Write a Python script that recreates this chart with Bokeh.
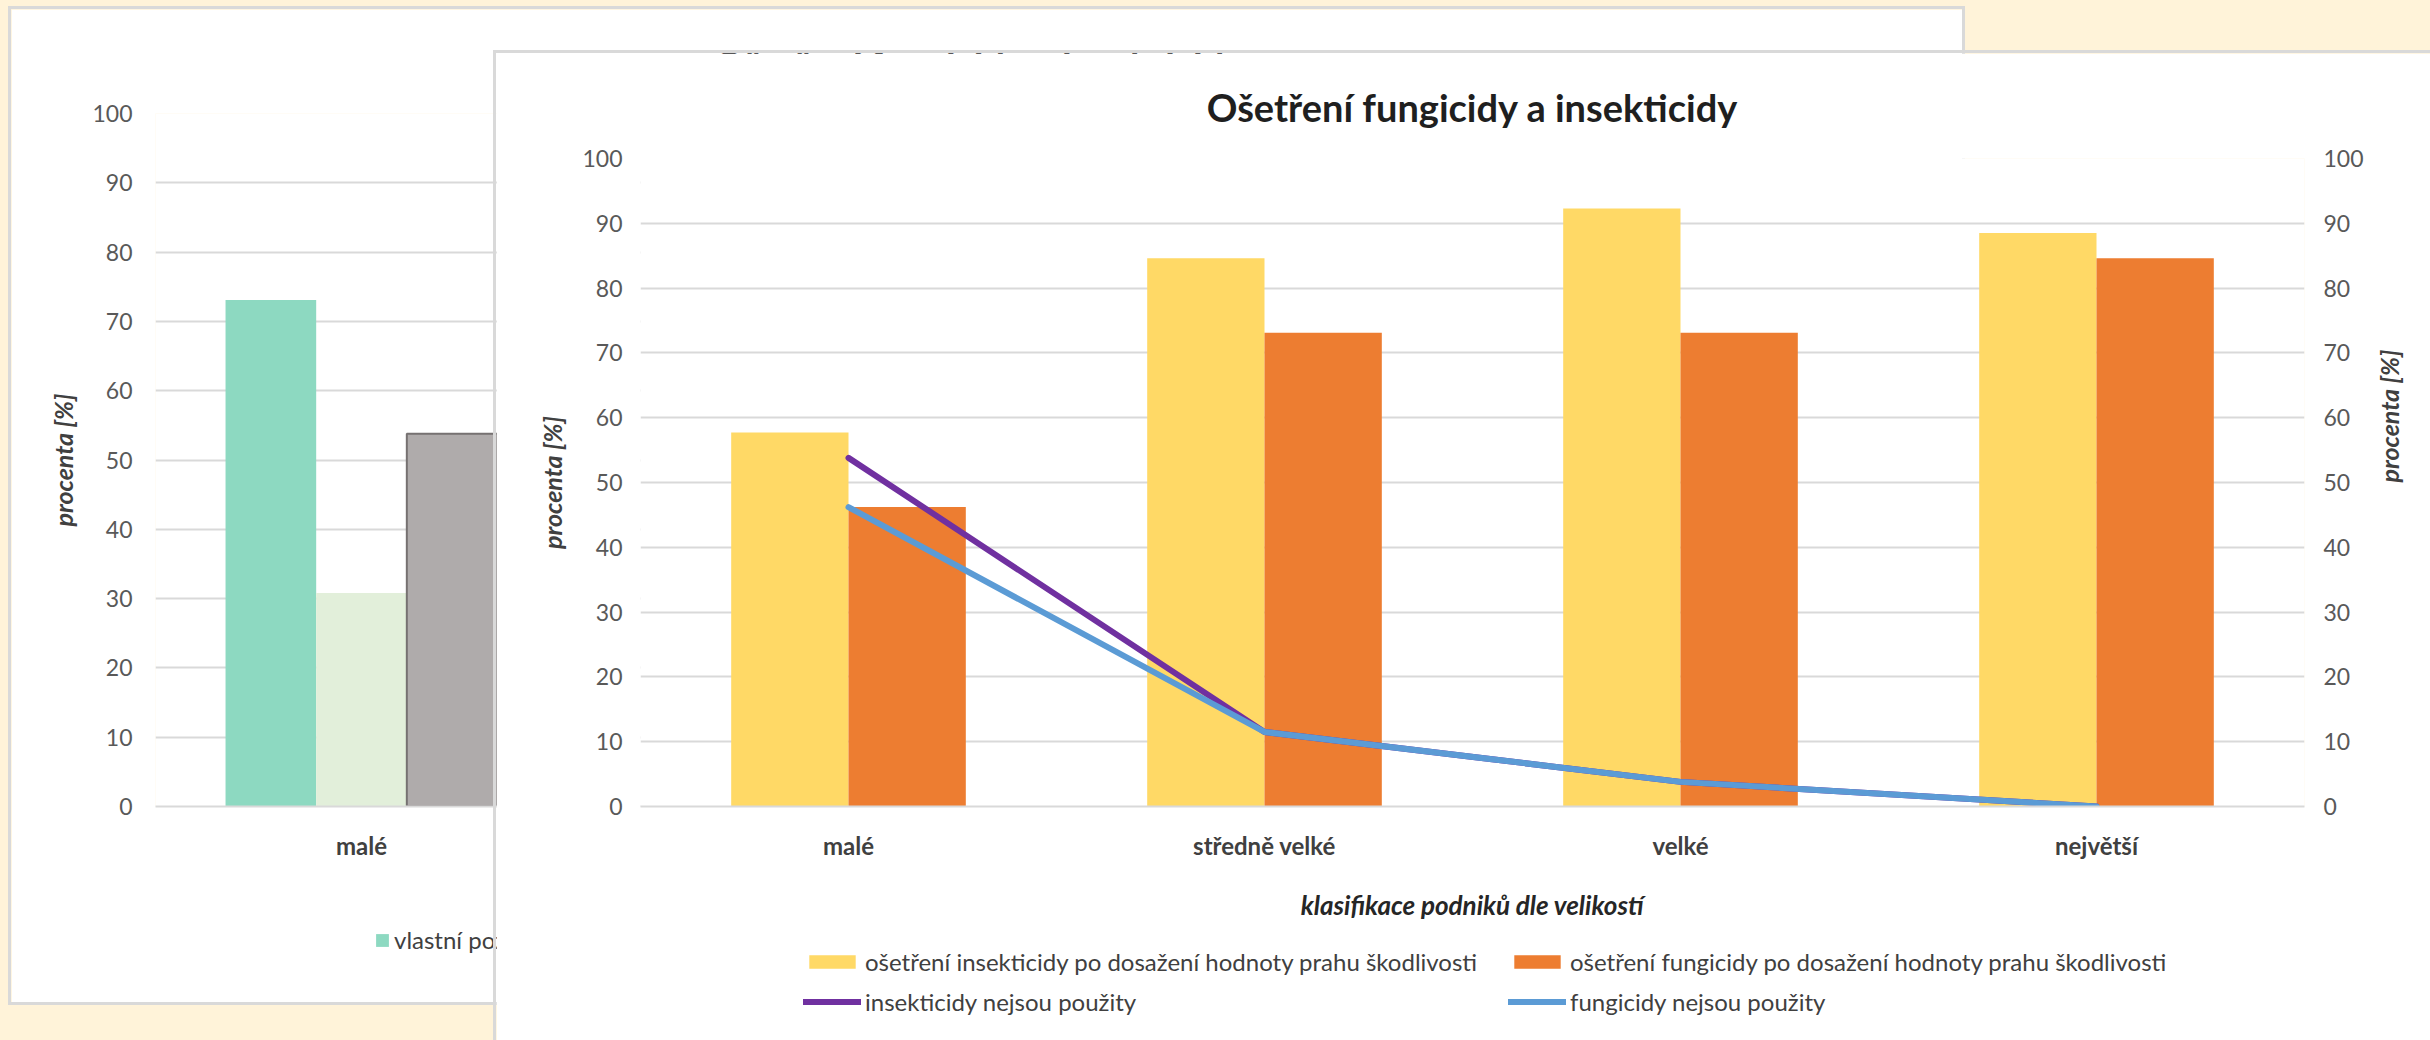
import math

from bokeh.plotting import figure
from bokeh.models import (FactorRange, Range1d, LinearAxis, SingleIntervalTicker,
                          Legend, LegendItem, ColumnDataSource)
from bokeh.layouts import column
from bokeh.transform import dodge
from bokeh.embed import file_html
from bokeh.resources import INLINE

FONT = "Lato"
GRID = "#D9D9D9"
TICK_TEXT = "#595959"
LABEL_TEXT = "#404040"
PAGE_BG = "#FFF3D9"

# ---- data -------------------------------------------------------------
categories = ["malé", "středně velké", "velké", "největší"]

# front chart: treatment after reaching the damage threshold (bars)
insekticidy_prah = [57.7, 84.6, 92.3, 88.5]
fungicidy_prah = [46.2, 73.1, 73.1, 84.6]
# front chart: pesticides not used (lines)
insekticidy_nepouzity = [53.8, 11.5, 3.8, 0.0]
fungicidy_nepouzity = [46.2, 11.5, 3.8, 0.0]

# back chart: first group only
back_categories = ["malé"]
back_vlastni = [73.1]
back_druha = [30.8]
back_treti = [53.8]

chart_title = "Ošetření fungicidy a insekticidy"
y_title = "procenta [%]"
x_title = "klasifikace podniků dle velikostí"
legend_labels = [
    "ošetření insekticidy po dosažení hodnoty prahu škodlivosti",
    "ošetření fungicidy po dosažení hodnoty prahu škodlivosti",
    "insekticidy nejsou použity",
    "fungicidy nejsou použity",
]
back_legend_label = "vlastní pozorování"

COL_TEAL, COL_PALE, COL_GREY = "#8DD9C1", "#E2EFDA", "#AFABAB"
COL_YELLOW, COL_ORANGE = "#FFD966", "#ED7D31"
COL_PURPLE, COL_BLUE = "#7030A0", "#5B9BD5"

# the legend strips carry an inner left inset, compensated here
STRIP_INSET = 142


def pos(left, top, framed=True):
    s = {"position": "absolute", "left": f"{left}px", "top": f"{top}px"}
    if framed:
        s["outline"] = f"3px solid {GRID}"
    return s


def style_y_axis(ax, standoff_labels, standoff_title):
    ax.ticker = SingleIntervalTicker(interval=10)
    ax.axis_line_color = None
    ax.major_tick_line_color = None
    ax.minor_tick_line_color = None
    ax.major_tick_out = 0
    ax.major_tick_in = 0
    ax.minor_tick_out = 0
    ax.major_label_text_font = FONT
    ax.major_label_text_font_size = "23px"
    ax.major_label_text_color = TICK_TEXT
    ax.major_label_standoff = standoff_labels
    ax.axis_label = y_title
    ax.axis_label_text_font = FONT
    ax.axis_label_text_font_size = "25px"
    ax.axis_label_text_font_style = "bold italic"
    ax.axis_label_text_color = LABEL_TEXT
    ax.axis_label_standoff = standoff_title


def style_x_axis(ax):
    ax.axis_line_color = GRID
    ax.axis_line_width = 2
    ax.major_tick_line_color = None
    ax.minor_tick_line_color = None
    ax.major_tick_out = 0
    ax.major_label_text_font = FONT
    ax.major_label_text_font_size = "24px"
    ax.major_label_text_font_style = "bold"
    ax.major_label_text_color = LABEL_TEXT
    ax.major_label_standoff = 24
    ax.axis_label = x_title
    ax.axis_label_text_font = FONT
    ax.axis_label_text_font_size = "26px"
    ax.axis_label_text_font_style = "bold italic"
    ax.axis_label_text_color = "#262626"
    ax.axis_label_standoff = 26


def style_title(p, standoff):
    p.title.text_font = FONT
    p.title.text_font_size = "38px"
    p.title.text_font_style = "bold"
    p.title.text_color = "#1F1F1F"
    p.title.align = "center"
    p.title.standoff = standoff


def legend_strip(left, top, width, height):
    """White strip that only shows a legend for hidden copies of the series."""
    f = figure(x_range=FactorRange(*categories), y_range=Range1d(0, 100),
               width=width, height=height, x_axis_type=None, y_axis_type=None,
               output_backend="svg", toolbar_location=None,
               min_border=0, outline_line_color=None,
               border_fill_color="white", background_fill_color="white",
               styles=pos(left - STRIP_INSET, top, framed=False))
    f.xgrid.visible = False
    f.ygrid.visible = False
    return f


def legend_style(**kw):
    base = dict(location="top_left", border_line_color=None,
                background_fill_alpha=0, label_text_font=FONT,
                label_text_font_size="24px", label_text_color=LABEL_TEXT,
                padding=0, margin=0)
    base.update(kw)
    return base


# ---- back chart ---------------------------------------------------------
back = figure(
    x_range=FactorRange(*categories), y_range=Range1d(0, 100),
    width=1951, height=993, title=chart_title,
    output_backend="svg", toolbar_location=None,
    min_border_left=144, min_border_right=159,
    min_border_top=104, min_border_bottom=196,
    border_fill_color="white", background_fill_color="white",
    outline_line_color=None, styles=pos(11, 9),
)
style_title(back, 52)
back.xgrid.grid_line_color = None
back.ygrid.grid_line_color = GRID
back.ygrid.grid_line_width = 2
style_y_axis(back.yaxis[0], 23, 11)
style_x_axis(back.xaxis[0])

back_src = ColumnDataSource(dict(cat=back_categories, a=back_vlastni,
                                 b=back_druha, c=back_treti))
bw = 0.22
back.vbar(x=dodge("cat", -bw, range=back.x_range), top="a", width=bw,
          source=back_src, fill_color=COL_TEAL, line_color=None)
back.vbar(x=dodge("cat", 0.0, range=back.x_range), top="b", width=bw,
          source=back_src, fill_color=COL_PALE, line_color=None)
back.vbar(x=dodge("cat", bw, range=back.x_range), top="c", width=bw,
          source=back_src, fill_color=COL_GREY, line_color="#767171",
          line_width=2)

back_leg = legend_strip(372, 925, 900, 30)
k_a = back_leg.vbar(x="cat", top="a", width=bw, source=back_src,
                    fill_color=COL_TEAL, line_color=None, visible=False)
back_leg.add_layout(Legend(
    items=[LegendItem(label=back_legend_label, renderers=[k_a])],
    **legend_style(glyph_width=16, glyph_height=16, label_standoff=4)),
    "center")

# ---- front chart --------------------------------------------------------
front = figure(
    x_range=FactorRange(*categories), y_range=Range1d(0, 100),
    width=1967, height=1000, title=chart_title,
    output_backend="svg", toolbar_location=None,
    min_border_left=136, min_border_right=100,
    min_border_top=105, min_border_bottom=247,
    border_fill_color="white", background_fill_color="white",
    outline_line_color=None, styles=pos(496, 53),
)
style_title(front, 57)
front.xgrid.grid_line_color = None
front.ygrid.grid_line_color = GRID
front.ygrid.grid_line_width = 2
style_y_axis(front.yaxis[0], 18, 12)
style_x_axis(front.xaxis[0])

right_axis = LinearAxis()
style_y_axis(right_axis, 19, 22)
right_axis.axis_label_orientation = math.pi / 2
front.add_layout(right_axis, "right")

src = ColumnDataSource(dict(cat=categories, ins=insekticidy_prah,
                            fun=fungicidy_prah, ins_no=insekticidy_nepouzity,
                            fun_no=fungicidy_nepouzity))
fw = 0.282
bar_ins = dict(top="ins", width=fw, source=src, fill_color=COL_YELLOW,
               line_color=None)
bar_fun = dict(top="fun", width=fw, source=src, fill_color=COL_ORANGE,
               line_color=None)
line_ins = dict(x="cat", y="ins_no", source=src, line_color=COL_PURPLE,
                line_width=6, line_cap="round", line_join="round")
line_fun = dict(x="cat", y="fun_no", source=src, line_color=COL_BLUE,
                line_width=6, line_cap="round", line_join="round")

front.vbar(x=dodge("cat", -fw / 2, range=front.x_range), **bar_ins)
front.vbar(x=dodge("cat", fw / 2, range=front.x_range), **bar_fun)
front.line(**line_ins)
front.line(**line_fun)

front_leg = legend_strip(801, 947, 1760, 93)
k_ins = front_leg.vbar(x="cat", visible=False, **bar_ins)
k_fun = front_leg.vbar(x="cat", visible=False, **bar_fun)
k_ins_no = front_leg.line(visible=False, **line_ins)
k_fun_no = front_leg.line(visible=False, **line_fun)
front_leg.add_layout(Legend(
    items=[LegendItem(label=legend_labels[0], renderers=[k_ins]),
           LegendItem(label=legend_labels[1], renderers=[k_fun]),
           LegendItem(label=legend_labels[2], renderers=[k_ins_no]),
           LegendItem(label=legend_labels[3], renderers=[k_fun_no])],
    **legend_style(orientation="horizontal", ncols=2, glyph_width=58,
                   glyph_height=17, label_standoff=4, spacing=11,
                   label_width=632)),
    "center")

page = column(
    back, back_leg, front, front_leg,
    width=2430, height=1040, sizing_mode="fixed",
    styles={"position": "relative", "overflow": "hidden",
            "background-color": PAGE_BG, "width": "2430px",
            "height": "1040px"},
)

open("out.html", "w").write(file_html(page, INLINE))
